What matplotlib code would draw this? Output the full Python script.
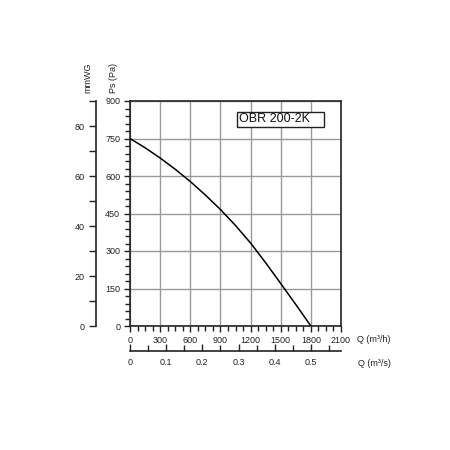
import matplotlib
matplotlib.use("Agg")
import matplotlib.pyplot as plt
from matplotlib.patches import Rectangle
from matplotlib.ticker import MultipleLocator

plt.rcParams['font.family'] = ['Liberation Sans', 'DejaVu Sans']

# fan curve OBR 200-2K
q_m3h = [0, 150, 300, 450, 600, 750, 900, 1050, 1200, 1350, 1500, 1650, 1800]
ps_pa = [750, 713, 672, 627, 578, 524, 466, 402, 332, 253, 170, 86, 0]

model = "OBR 200-2K"
q_max = 2100
ps_max = 900
mmwg_max = 90

fig = plt.figure(figsize=(4.5, 4.5), dpi=100)
W = H = 450.0
ink = '#222222'

# main axes: Q (m3/h) vs Ps (Pa)
ax = fig.add_axes([130 / W, (H - 326) / H, 211 / W, 225 / H])
ax.plot(q_m3h, ps_pa, color='black', lw=1.1, zorder=3)
ax.set_xlim(0, q_max)
ax.set_ylim(0, ps_max)
ax.xaxis.set_major_locator(MultipleLocator(300))
ax.xaxis.set_minor_locator(MultipleLocator(75))
ax.yaxis.set_major_locator(MultipleLocator(150))
ax.yaxis.set_minor_locator(MultipleLocator(30))
ax.grid(True, which='major', color='#9a9a9a', lw=1.0, zorder=1)
for s in ax.spines.values():
    s.set_color(ink)
    s.set_linewidth(1.2)
ax.tick_params(which='both', direction='out', color=ink, width=1.0,
               labelsize=6.5, labelcolor=ink)
ax.tick_params(which='major', length=4, pad=3)
ax.tick_params(which='minor', length=3.5)

# model label box
ax.add_patch(Rectangle((1062, 797), 869, 60, facecolor='white',
                       edgecolor=ink, lw=1.0, zorder=4))
ax.text(1080, 827, model, fontsize=9, color='#111111', ha='left',
        va='center', zorder=5)

# secondary left axis: mmWG
ax2 = fig.add_axes([96 / W, (H - 326) / H, 0.001, 225 / H])
ax2.set_ylim(0, mmwg_max)
ax2.set_xlim(0, 1)
for k in ['top', 'right', 'bottom']:
    ax2.spines[k].set_visible(False)
ax2.spines['left'].set_color(ink)
ax2.spines['left'].set_linewidth(1.2)
ax2.set_xticks([])
ax2.yaxis.set_major_locator(MultipleLocator(20))
ax2.yaxis.set_minor_locator(MultipleLocator(10))
ax2.tick_params(which='both', direction='out', color=ink, width=1.0,
                labelsize=6.5, labelcolor=ink)
ax2.tick_params(which='major', length=5, pad=3)
ax2.tick_params(which='minor', length=5)

# secondary bottom axis: Q (m3/s)
ax3 = fig.add_axes([130 / W, (H - 351) / H, 211 / W, 0.001])
ax3.set_xlim(0, q_max / 3600)
ax3.set_ylim(0, 1)
for k in ['top', 'right', 'left']:
    ax3.spines[k].set_visible(False)
ax3.spines['bottom'].set_color(ink)
ax3.spines['bottom'].set_linewidth(1.2)
ax3.set_yticks([])
ax3.xaxis.set_minor_locator(MultipleLocator(0.05))
ax3.set_xticks([0, 0.1, 0.2, 0.3, 0.4, 0.5])
ax3.set_xticklabels(['0', '0.1', '0.2', '0.3', '0.4', '0.5'])
ax3.tick_params(which='both', direction='in', color=ink, width=1.0,
                labelsize=6.5, labelcolor=ink)
ax3.tick_params(which='major', length=5, pad=5)
ax3.tick_params(which='minor', length=4)

# axis titles
fig.text(88 / W, (H - 78) / H, "mmWG", fontsize=6.5, color=ink,
         rotation=90, ha='center', va='center')
fig.text(113 / W, (H - 78) / H, "Ps (Pa)", fontsize=6.5, color=ink,
         rotation=90, ha='center', va='center')
fig.text(357 / W, (H - 339) / H, "Q (m³/h)", fontsize=6.5, color=ink,
         ha='left', va='center')
fig.text(358 / W, (H - 363) / H, "Q (m³/s)", fontsize=6.5, color=ink,
         ha='left', va='center')

fig.savefig("out.png", dpi=100, facecolor='white')
